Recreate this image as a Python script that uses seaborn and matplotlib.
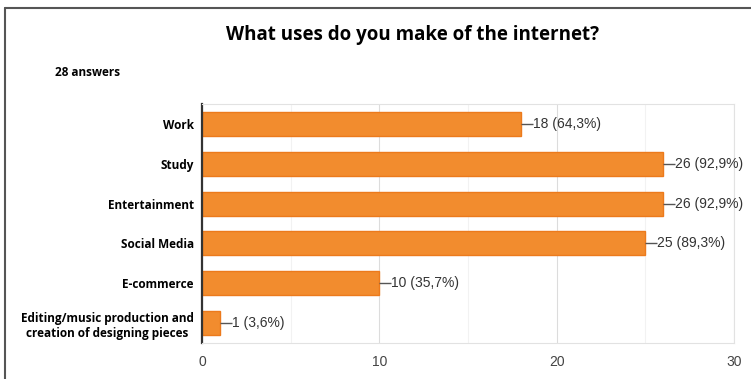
import matplotlib
matplotlib.use("Agg")
import matplotlib.pyplot as plt
from matplotlib.lines import Line2D
from matplotlib.ticker import MultipleLocator
import pandas as pd
import seaborn as sns

# survey data
uses = ["Work", "Study", "Entertainment", "Social Media", "E-commerce",
        "Editing/music production and\ncreation of designing pieces"]
counts = [18, 26, 26, 25, 10, 1]
percents = ["64,3%", "92,9%", "92,9%", "89,3%", "35,7%", "3,6%"]
total_answers = 28

df = pd.DataFrame({"use": uses, "count": counts})

sns.set_style("white")
W, H = 751, 379
fig = plt.figure(figsize=(W / 100, H / 100), dpi=100)
ax = fig.add_axes([202 / W, (H - 343) / H, (734 - 202) / W, (343 - 104) / H])

sns.barplot(data=df, x="count", y="use", orient="h", color="#f28c2e",
            saturation=1, width=0.6, edgecolor="#ec7a1c", linewidth=1, ax=ax)

# value labels with short leader line (about 12 px long)
lead = 12 * 30 / 532
for i, (c, p) in enumerate(zip(counts, percents)):
    ax.plot([c, c + lead], [i, i], color="#555555", lw=1, solid_capstyle="butt",
            scalex=False, scaley=False)
    ax.text(c + lead, i, f"{c} ({p})", va="center", ha="left", fontsize=10,
            color="#333333", family=["Liberation Sans", "DejaVu Sans"], clip_on=False)

ax.set_xlim(0, 30)
ax.set_ylim(len(uses) - 0.5, -0.5)
ax.xaxis.set_major_locator(MultipleLocator(10))
ax.xaxis.set_minor_locator(MultipleLocator(5))
ax.grid(axis="x", which="major", color="#dcdcdc", linewidth=0.8)
ax.grid(axis="x", which="minor", color="#f2f2f2", linewidth=0.8)
ax.set_axisbelow(True)

for side in ["top", "right", "bottom"]:
    ax.spines[side].set_color("#e2e2e2")
    ax.spines[side].set_linewidth(0.8)
ax.spines["left"].set_color("#333333")
ax.spines["left"].set_linewidth(1.6)

ax.set_xlabel("")
ax.set_ylabel("")
ax.tick_params(axis="both", length=0)
ax.tick_params(axis="x", pad=9, labelsize=10, labelcolor="#444444")
ax.tick_params(axis="y", pad=6)
for lab in ax.get_xticklabels():
    lab.set_fontfamily(["Liberation Sans", "DejaVu Sans"])
for lab in ax.get_yticklabels():
    lab.set_fontfamily(["Open Sans", "DejaVu Sans"])
    lab.set_fontweight("bold")
    lab.set_fontsize(8.5)
    lab.set_multialignment("center")
    lab.set_color("#000000")

fig.text(413 / W, 1 - 35 / H, "What uses do you make of the internet?", ha="center",
         va="center", fontsize=13.5, fontweight="bold", family=["Open Sans", "DejaVu Sans"],
         color="#000000")
fig.text(55 / W, 1 - 72 / H, f"{total_answers} answers", ha="left", va="center",
         fontsize=8.5, fontweight="bold", family=["Open Sans", "DejaVu Sans"], color="#000000")

# outer frame (top and left edges)
fig.add_artist(Line2D([4.5 / W, 4.5 / W], [0, 1 - 7.5 / H], transform=fig.transFigure,
                      color="#555555", linewidth=1.5))
fig.add_artist(Line2D([4.5 / W, 1], [1 - 7.5 / H, 1 - 7.5 / H], transform=fig.transFigure,
                      color="#555555", linewidth=1.5))

fig.savefig("out.png", dpi=100)
